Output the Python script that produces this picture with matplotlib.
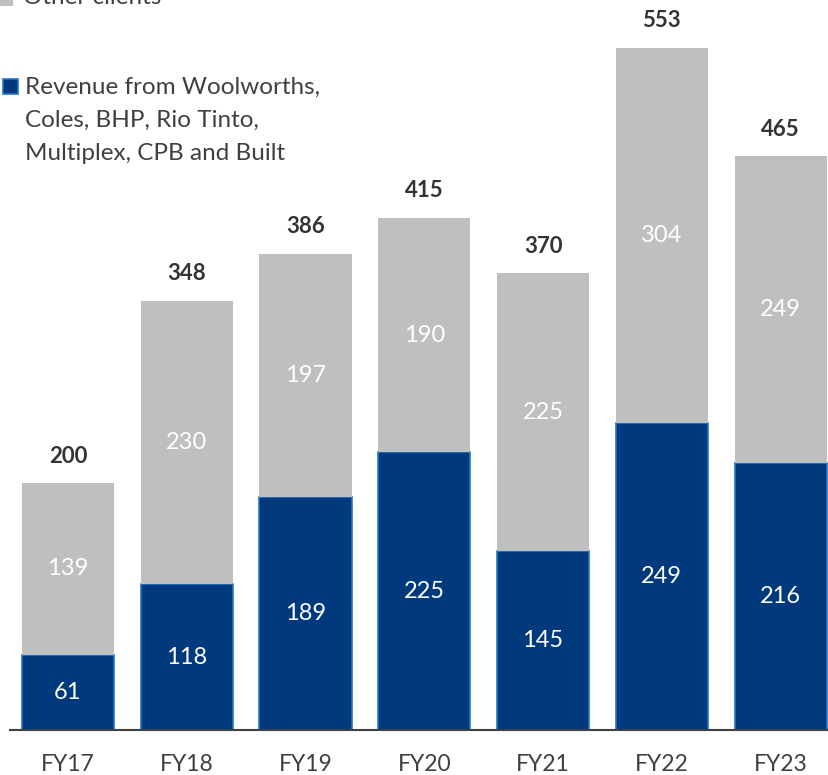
import matplotlib
matplotlib.use("Agg")
import matplotlib.pyplot as plt
from matplotlib.patches import Rectangle

plt.rcParams['font.family'] = ['Lato', 'DejaVu Sans']

years = ["FY17", "FY18", "FY19", "FY20", "FY21", "FY22", "FY23"]
key_clients = [61, 118, 189, 225, 145, 249, 216]
other_clients = [139, 230, 197, 190, 225, 304, 249]
totals = [200, 348, 386, 415, 370, 553, 465]
legend_lines = ["Revenue from Woolworths,", "Coles, BHP, Rio Tinto,", "Multiplex, CPB and Built"]

BLUE = "#003A7D"
BLUE_EDGE = "#1F78C8"
GREY = "#BFBFBF"
TXT = "#333333"

W, H = 829, 775
fig = plt.figure(figsize=(W / 100, H / 100), dpi=100)
ax = fig.add_axes([10 / W, 45 / H, 819 / W, 730 / H])

x = list(range(len(years)))
bw = 0.775
ax.bar(x, key_clients, width=bw, color=BLUE, edgecolor=BLUE_EDGE, linewidth=1.2, zorder=2)
ax.bar(x, other_clients, width=bw, bottom=key_clients, color=GREY, edgecolor="none", zorder=2)

for i in x:
    ax.text(i, key_clients[i] / 2, str(key_clients[i]), ha="center", va="center",
            color="white", fontsize=17)
    ax.text(i, key_clients[i] + other_clients[i] / 2, str(other_clients[i]), ha="center",
            va="center", color="white", fontsize=17)
    ax.annotate(str(totals[i]), (i, totals[i]), xytext=(0, 19.5), textcoords="offset points",
                ha="center", va="center", fontsize=16, fontweight="bold", color=TXT)

ax.set_xlim(-0.488, 6.408)
ax.set_ylim(0, 591.6)
ax.set_xticks(x)
ax.set_xticklabels(years, fontsize=16.5, color="#404040")
ax.tick_params(axis="x", length=0, pad=17)
ax.set_yticks([])
for s in ["top", "right", "left"]:
    ax.spines[s].set_visible(False)
ax.spines["bottom"].set_color("#404040")
ax.spines["bottom"].set_linewidth(1.5)
ax.spines["bottom"].set_zorder(3)

# legend drawn manually
def fx(px):
    return px / W

def fy(py):
    return 1 - py / H

fig.patches.append(Rectangle((fx(0), fy(6)), fx(13), 15 / H, transform=fig.transFigure,
                             facecolor=GREY, edgecolor="none"))
fig.text(fx(23), fy(4), "Other clients", fontsize=17.5, color="#404040", ha="left", va="baseline")

fig.patches.append(Rectangle((fx(3), fy(94)), 15 / W, 15 / H, transform=fig.transFigure,
                             facecolor=BLUE, edgecolor=BLUE_EDGE, linewidth=1.2))
for k, line in enumerate(legend_lines):
    fig.text(fx(25), fy(94 + 33 * k), line, fontsize=17.5, color="#404040",
             ha="left", va="baseline")

fig.savefig("out.png", dpi=100)
